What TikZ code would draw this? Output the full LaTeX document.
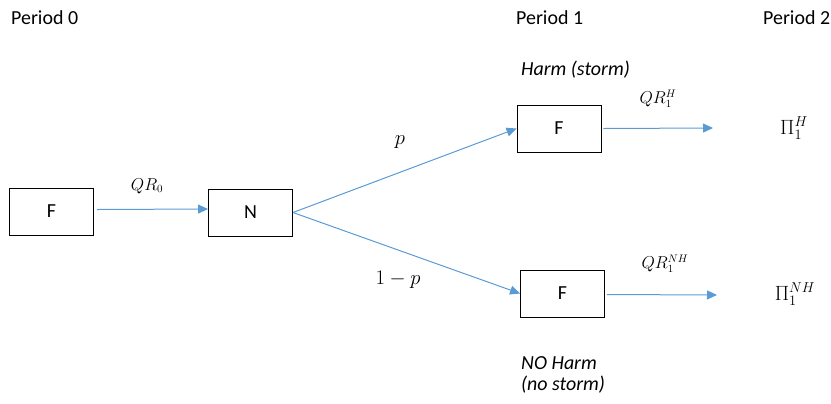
\documentclass[tikz,border=0pt]{standalone}
\usepackage{fontspec}
\setmainfont{Carlito}
\usetikzlibrary{arrows.meta}
\definecolor{arrowblue}{HTML}{5B9BD5}
\begin{document}
\begin{tikzpicture}[x=1bp,y=-1bp,
  box/.style={draw=black,line width=0.9bp,minimum width=84bp,minimum height=47bp,inner sep=0pt,font=\fontsize{20}{24}\selectfont},
  conn/.style={draw=arrowblue,line width=1bp,-{Triangle[length=10bp,width=9bp]}},
  txt/.style={font=\fontsize{20}{24}\selectfont,inner sep=0pt},
  mlab/.style={font=\fontsize{22}{26}\selectfont,inner sep=0pt},
  slab/.style={font=\fontsize{16}{19}\selectfont,inner sep=0pt},
  itxt/.style={font=\fontsize{20}{24}\itshape,inner sep=0pt,anchor=west}]
\useasboundingbox (0,0) rectangle (831,403);
\node[txt,anchor=west] (p0) at (11,18) {Period 0};
\node[txt,anchor=west] (p1) at (516,18) {Period 1};
\node[txt,anchor=west] (p2) at (763,18) {Period 2};
\node[box] (f0) at (51.5,211.5) {F};
\node[box] (n) at (250.5,212.5) {N};
\node[box] (fh) at (559,128.5) {F};
\node[box] (fnh) at (562.5,293.5) {F};
\coordinate (ph) at (713,128);
\coordinate (pnh) at (717,295);
\node[mlab] (pih) at (794,128) {$\Pi_1^H$};
\node[mlab] (pinh) at (795,294) {$\Pi_1^{NH}$};
\draw[conn] (f0.east) ++(3,-2) -- (n.west |- 0,209);
\draw[conn] (n.east) -- (fh.west);
\draw[conn] (n.east) -- (fnh.west);
\draw[conn] (fh.east) ++(2,0) -- (ph);
\draw[conn] (fnh.east) ++(2,1) -- (pnh);
\node[slab] (qr0) at (147,186) {$QR_0$};
\node[mlab] (lp) at (400,142) {$p$};
\node[mlab] (l1p) at (398,280) {$1-p$};
\node[slab] (qrh) at (658,99) {$QR_1^H$};
\node[slab] (qrnh) at (665,264) {$QR_1^{NH}$};
\node[itxt] (harm) at (521,70) {Harm (storm)};
\node[itxt] (noharm) at (521,363) {NO Harm};
\node[itxt] (nostorm) at (521,385) {(no storm)};
\end{tikzpicture}
\end{document}
